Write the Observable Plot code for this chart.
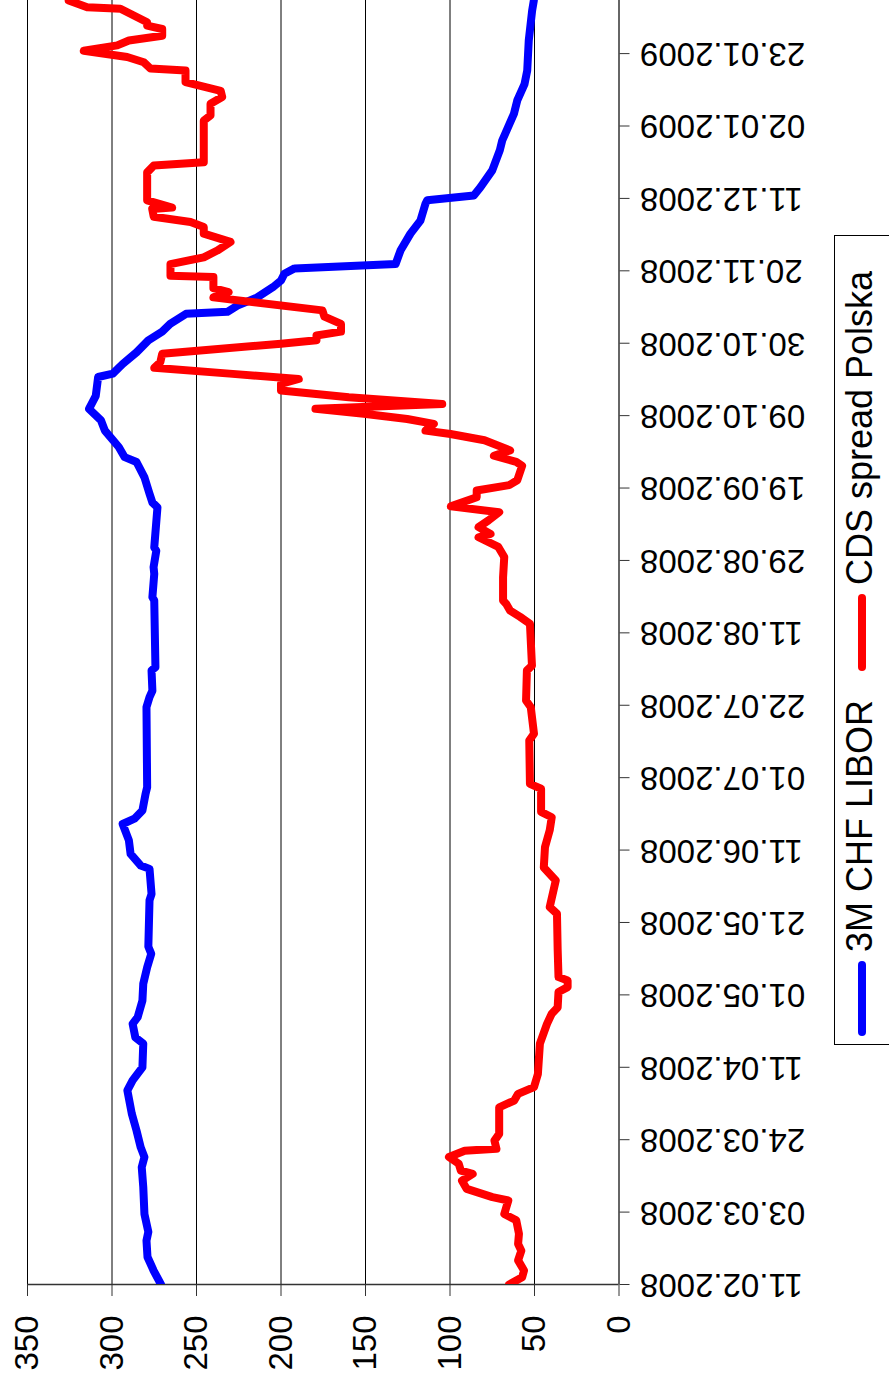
<!DOCTYPE html>
<html>
<head>
<meta charset="utf-8">
<script src="https://cdn.jsdelivr.net/npm/d3@7"></script>
<script src="https://cdn.jsdelivr.net/npm/@observablehq/plot@0.6"></script>
<style>
html, body { margin: 0; padding: 0; background: #fff; }
#wrap { position: relative; width: 889px; height: 1392px; overflow: hidden; }
#wrap svg { display: block; }
#legend { position: absolute; left: 0; top: 0; pointer-events: none; }
</style>
</head>
<body>
<div id="wrap"></div>
<script>
// Category (trading-day) axis labels, one every 15 observations
const dateLabels = [
  "11.02.2008", "03.03.2008", "24.03.2008", "11.04.2008", "01.05.2008", "21.05.2008",
  "11.06.2008", "01.07.2008", "22.07.2008", "11.08.2008", "29.08.2008", "19.09.2008",
  "09.10.2008", "30.10.2008", "20.11.2008", "11.12.2008", "02.01.2009", "23.01.2009"
];
const labelStep = 15;
const lastDay = 266;
const valueTicks = [0, 50, 100, 150, 200, 250, 300, 350];

const seriesNames = ["3M CHF LIBOR", "CDS spread Polska"];
const seriesColors = ["#0000ff", "#ff0000"];

// 3M CHF LIBOR (observation index, value)
const liborDay = [0, 2.9, 5.7, 9.1, 10.9, 14.6, 20.2, 24.3, 26.4, 28.4, 31.9, 35.4, 40.2, 42.3, 45, 49.9,
  51.2, 54, 55.4, 58.8, 62.3, 65.7, 68.5, 70, 79.6, 80.9, 86.1, 86.8, 89.2, 92, 95.4, 96.5, 98.2,
  101.7, 103, 119.6, 121.7, 123, 127.2, 127.9, 141.7, 142.4, 147.2, 148.6, 152, 152.7, 161, 162,
  163.8, 167.2, 170.4, 171.4, 173.5, 176.9, 179, 181.4, 184.1, 188, 188.7, 190.7, 193.1, 195.6,
  197.4, 199, 201.1, 201.5, 202.8, 204.5, 206.6, 208, 209.4, 210.5, 211.4, 214.2, 217.7, 220.4,
  223.9, 224.6, 225.6, 227.3, 230.8, 235, 237, 242.5, 245.3, 248.7, 251.5, 257.7, 263.9, 266];
const liborBp = [271, 275.4, 279, 279.6, 278.5, 280.8, 281.5, 282.4, 280.8, 283, 285.5, 288.3, 290.9, 287.8, 282, 281.5,
  286.2, 287.8, 284.8, 282, 281.5, 279.2, 276.8, 278.5, 277.8, 276.6, 277.8, 283, 289, 290, 293.7, 286.7, 282,
  280.1, 279.2, 279.6, 277.8, 276.1, 276.6, 274.3, 275, 276.1, 275, 275.4, 273.8, 275, 273.1, 276.1,
  277.8, 280.8, 285.5, 292.5, 296, 304.2, 306.5, 313.6, 309.6, 308.2, 299.5, 293.7, 285.5, 278.5,
  270.3, 265.6, 256.2, 231.7, 225.8, 214.1, 204.8, 200, 198, 192, 132.2, 129.3, 123.4, 117.5,
  114.5, 113.5, 85.9, 82, 75, 70.5, 69.1, 62.2, 60.2, 55.9, 54.3, 53.4, 51.4, 50.4];

// CDS spread Polska (observation index, value)
const cdsDay = [0, 1.5, 2.9, 5, 7, 8.4, 10.5, 13.3, 14.6, 17.4, 18.1, 19.8, 21.5, 22.9, 23.6, 25, 26.4,
  27.7, 28.1, 29.8, 31.2, 36.7, 38.1, 39.5, 40.9, 43.6, 49.9, 54, 56.1, 57.4, 60.6, 61.6, 63, 63.7,
  69.5, 76.8, 78.2, 83.7, 86.4, 90.6, 94.1, 96.8, 97.9, 102.7, 103.7, 112.7, 114.1, 119.6, 121,
  127.2, 128.2, 136.9, 138.3, 139.6, 141, 141.7, 146.5, 150.7, 152.8, 154.8, 155.5, 156.9, 158.3,
  160, 161.2, 163.1, 164.5, 165.6, 166.6, 169.6, 170.4, 171.7, 172.8, 174.9, 176.2, 176.9, 178.3,
  179.3, 180.4, 181.4, 182.4, 183.8, 185.2, 186.6, 187.6, 188.7, 189.9, 191.1, 192.8, 194.9, 195.6,
  196.6, 197.4, 199, 200.5, 201.8, 204.5, 205.6, 206.4, 208.7, 209, 211.4, 212.8, 214.2, 216,
  217.7, 219.1, 220.1, 221.2, 222.8, 223.1, 224.6, 230.4, 231.8, 232.5, 241.1, 242.2, 244.6, 246,
  247.3, 249.1, 251.5, 251.9, 253.2, 254.3, 255.6, 256.7, 257.7, 258.7, 260.1, 260.8, 261.5, 264.3,
  264.6, 266];
const cdsBp = [65, 57.3, 56.2, 59.7, 57.8, 59.7, 59.2, 60.8, 67.9, 65.5, 74.9, 90.1, 92.9, 86.6, 93.6, 94.8, 100.6,
  91.3, 72.5, 73.7, 70.9, 70.9, 62, 59.7, 50.3, 48, 46.8, 42.6, 39.8, 36.3, 35.8, 30.4, 30.4, 35.8,
  36.3, 36.7, 41, 37.4, 44.5, 43.8, 41, 39.8, 46.1, 46.1, 52.7, 53.1, 50.3, 52.2, 55,
  54.5, 51.5, 52.7, 58.5, 64.4, 66.7, 68.6, 68.6, 67.9, 71.4, 83.1, 76, 83.1, 77.2,
  70.9, 99.5, 84.2, 84.2, 65, 60.2, 57.3, 60.8, 74, 64.4, 79.6, 99.7, 114.5, 109.6,
  125.3, 151, 179.6, 104.6, 159.9, 200, 200, 189.5, 230.5, 275, 271.4, 270.3, 200, 179,
  179, 164.5, 164.5, 174.3, 175.5, 240, 231, 240, 240, 265.4, 265.4, 245.7, 237.7, 229.9,
  245.7, 245.7, 253.5, 275.3, 276.2, 264.4, 279.2, 279.2, 275.3, 245.7, 245.7, 241.7, 241.7, 234.8,
  235.7, 256.5, 256.5, 277.2, 281.2, 291, 316.7, 296.9, 290, 270.3, 270.3, 279.2, 279.2, 295,
  314.7, 325.6];

const libor = liborDay.map((d, i) => ({day: d, value: liborBp[i]}));
const cds = cdsDay.map((d, i) => ({day: d, value: cdsBp[i]}));
const dayTicks = dateLabels.map((_, i) => i * labelStep);

const font = "'Liberation Sans', Arial, sans-serif";

const chart = Plot.plot({
  width: 889,
  height: 1392,
  marginLeft: 27,
  marginRight: 270.5,
  marginTop: 0,
  marginBottom: 108,
  style: {fontFamily: font, fontSize: "33px", background: "#fff", color: "#000"},
  x: {domain: [0, 350], reverse: true, label: null},
  y: {domain: [0, lastDay], label: null},
  marks: [
    Plot.ruleX(valueTicks.filter(v => v > 0), {stroke: "#000", strokeWidth: 1}),
    Plot.ruleX([0], {stroke: "#333", strokeWidth: 1.5}),
    Plot.ruleY([0], {stroke: "#333", strokeWidth: 1.5}),
    Plot.line(libor, {x: "value", y: "day", stroke: seriesColors[0], strokeWidth: 8,
      strokeLinejoin: "round", strokeLinecap: "round", clip: true}),
    Plot.line(cds, {x: "value", y: "day", stroke: seriesColors[1], strokeWidth: 8,
      strokeLinejoin: "round", strokeLinecap: "round", clip: true}),
    Plot.axisX({ticks: valueTicks, tickSize: 12, tickPadding: 19, tickRotate: -90,
      textAnchor: "end", lineAnchor: "middle", fontSize: 33, stroke: "#333", tickFormat: d => String(d)}),
    Plot.axisY({anchor: "right", ticks: dayTicks, tickSize: 10, tickPadding: 11, tickRotate: 180,
      textAnchor: "end", lineAnchor: "middle", fontSize: 33, stroke: "#333",
      tickFormat: d => dateLabels[Math.round(d / labelStep)]})
  ]
});
const wrap = document.getElementById("wrap");
wrap.appendChild(chart);

// Legend (rotated like the chart)
const lg = d3.select(wrap).append("svg")
  .attr("id", "legend").attr("width", 889).attr("height", 1392)
  .style("font-family", font);
lg.append("rect").attr("x", 834.5).attr("y", 235.5).attr("width", 80).attr("height", 809)
  .attr("fill", "#fff").attr("stroke", "#000").attr("stroke-width", 1);
const legendItems = [
  {name: seriesNames[0], color: seriesColors[0], y0: 1032, y1: 965, textY: 952},
  {name: seriesNames[1], color: seriesColors[1], y0: 667, y1: 598, textY: 585}
];
for (const it of legendItems) {
  lg.append("line").attr("x1", 862).attr("x2", 862).attr("y1", it.y0).attr("y2", it.y1)
    .attr("stroke", it.color).attr("stroke-width", 8).attr("stroke-linecap", "round");
  lg.append("text").attr("transform", `translate(872,${it.textY}) rotate(-90)`)
    .attr("font-size", 36).attr("fill", "#000").attr("text-anchor", "start").text(it.name);
}
</script>
</body>
</html>
